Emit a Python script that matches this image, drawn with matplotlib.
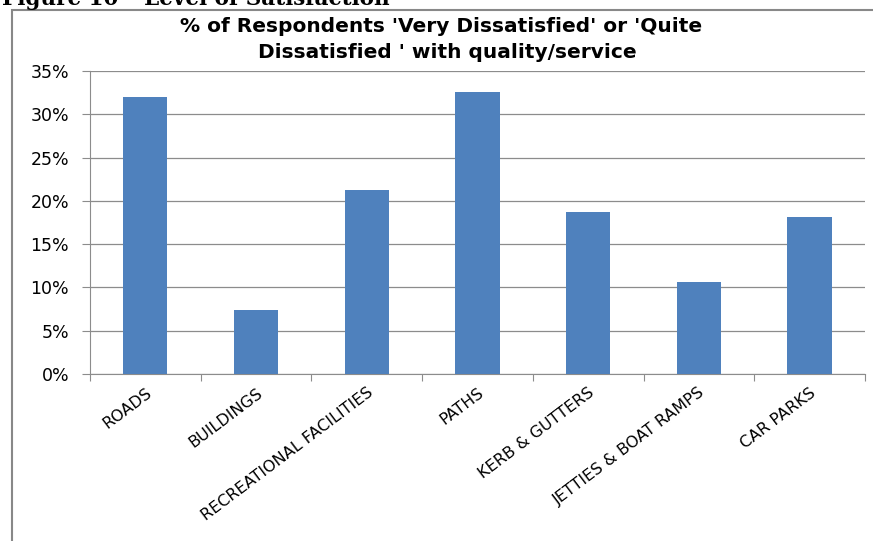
import matplotlib
matplotlib.use("Agg")
import matplotlib.pyplot as plt
from matplotlib.patches import Rectangle
from matplotlib.ticker import MultipleLocator, FuncFormatter

categories = ["ROADS", "BUILDINGS", "RECREATIONAL FACILITIES", "PATHS",
              "KERB & GUTTERS", "JETTIES & BOAT RAMPS", "CAR PARKS"]
dissatisfied = [0.32, 0.074, 0.212, 0.326, 0.187, 0.106, 0.181]

title = "% of Respondents 'Very Dissatisfied' or 'Quite\nDissatisfied ' with quality/service"
heading = "Figure 10 \u2013 Level of Satisfaction"

W, H = 873, 541
fig = plt.figure(figsize=(W / 100, H / 100), dpi=100)
plt.rcParams['font.family'] = ['DejaVu Sans']

# chart frame
fig.patches.append(Rectangle((12 / W, -0.1), 1.0, 1 - 10 / H + 0.1,
                             transform=fig.transFigure, fill=False,
                             edgecolor="#888888", linewidth=1.5))
fig.text(2 / W, 1 - 5 / H, heading, family="DejaVu Serif", fontweight="bold",
         fontsize=15.5, ha="left", va="baseline")

ax = fig.add_axes([90 / W, 1 - 374 / H, (865 - 90) / W, (374 - 71) / H])
x = range(len(categories))
ax.bar(x, dissatisfied, width=0.4, color="#4f81bd", zorder=3)

ax.set_ylim(0, 0.35)
ax.set_xlim(-0.5, len(categories) - 0.5)
ax.yaxis.set_major_locator(MultipleLocator(0.05))
ax.yaxis.set_major_formatter(FuncFormatter(lambda v, p: f"{v * 100:.0f}%"))
ax.grid(axis="y", color="#8c8c8c", linewidth=0.9, zorder=0)

for s in ["top", "right"]:
    ax.spines[s].set_visible(False)
for s in ["left", "bottom"]:
    ax.spines[s].set_color("#8c8c8c")

ax.set_xticks([i - 0.5 for i in range(len(categories) + 1)], minor=False)
ax.set_xticklabels([])
ax.set_xticks(list(x), minor=True)
ax.set_xticklabels(categories, minor=True, rotation=37, ha="right",
                   rotation_mode="anchor", fontsize=11.5)
ax.tick_params(axis="x", which="major", length=5, color="#8c8c8c")
ax.tick_params(axis="x", which="minor", length=0, pad=8)
ax.tick_params(axis="y", length=6, color="#8c8c8c", labelsize=12.5, pad=9)

fig.text(441 / W, 1 - 27 / H, title.split("\n")[0], fontweight="bold",
         fontsize=14.5, ha="center", va="center")
fig.text(447 / W, 1 - 52 / H, title.split("\n")[1], fontweight="bold",
         fontsize=14.5, ha="center", va="center")

fig.savefig("out.png", dpi=100)
